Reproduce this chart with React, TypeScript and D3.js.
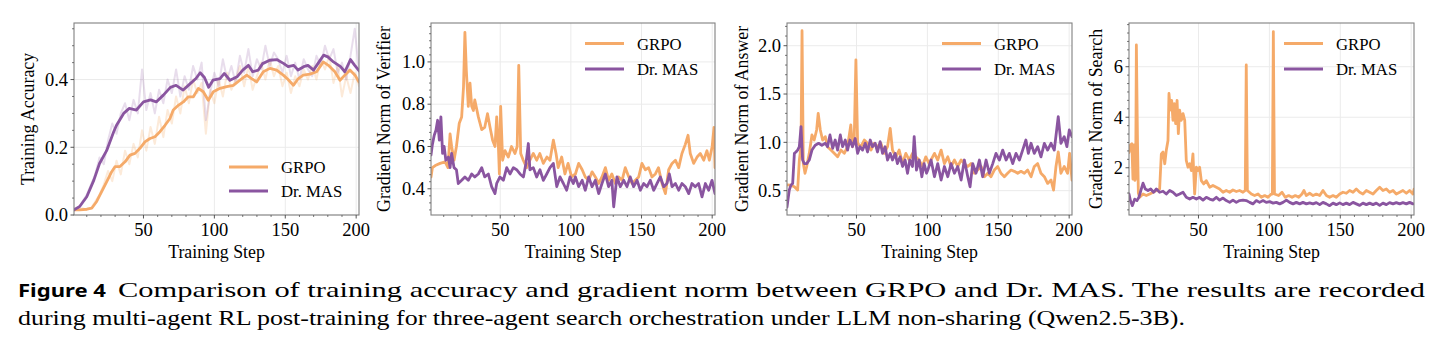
import React from "react";
import * as d3 from "d3";

// figure size and shared plot rows
const W = 1447;
const H = 351;
const TOP = 23;
const BOTTOM = 215;

const GRPO_COLOR = "#f5aa69";
const MAS_COLOR = "#8a55a0";
const SERIF = "'Liberation Serif', 'Times New Roman', serif";

const xTicks = [50, 100, 150, 200];
const legendNames = ["GRPO", "Dr. MAS"];

// ---- Training accuracy (smoothed + raw) ----
const accMasSteps = [1, 5, 10, 15, 19, 24, 29, 31, 36, 40, 45, 50, 55, 59, 64, 69, 73, 78, 83, 87, 90, 93, 96, 99, 104, 107, 111, 116, 120, 124, 127, 131, 134, 139, 144, 149, 152, 156, 159, 163, 166, 170, 173, 177, 180, 184, 189, 192, 196, 199, 202];
const accMas = [0.015, 0.025, 0.054, 0.103, 0.152, 0.19, 0.246, 0.265, 0.3, 0.315, 0.31, 0.334, 0.34, 0.334, 0.354, 0.377, 0.383, 0.369, 0.388, 0.403, 0.42, 0.406, 0.377, 0.398, 0.403, 0.418, 0.398, 0.408, 0.428, 0.442, 0.423, 0.428, 0.447, 0.457, 0.459, 0.447, 0.438, 0.442, 0.428, 0.438, 0.442, 0.428, 0.447, 0.472, 0.467, 0.452, 0.438, 0.423, 0.459, 0.442, 0.426];
const accGrpoSteps = [1, 5, 10, 13.5, 17, 20.5, 24, 27.6, 30, 33.4, 37, 40.5, 44, 47.5, 51, 54.6, 58.1, 61.6, 65.2, 68.7, 71, 74.6, 78.1, 81.6, 85.2, 88.7, 92.2, 95.7, 99.3, 104, 108.7, 113.4, 118, 122.8, 126.3, 129.8, 134.5, 139.2, 143.9, 148.6, 152, 155.7, 159.2, 162.7, 167.4, 172.1, 176.8, 180.4, 185, 188.6, 192, 195.6, 199.2, 202];
const accGrpo = [0.015, 0.015, 0.017, 0.02, 0.04, 0.069, 0.098, 0.128, 0.143, 0.143, 0.157, 0.177, 0.182, 0.197, 0.216, 0.226, 0.231, 0.246, 0.265, 0.285, 0.31, 0.324, 0.334, 0.349, 0.349, 0.374, 0.364, 0.339, 0.364, 0.374, 0.379, 0.383, 0.398, 0.413, 0.403, 0.393, 0.423, 0.433, 0.428, 0.413, 0.4, 0.383, 0.403, 0.413, 0.416, 0.423, 0.452, 0.442, 0.423, 0.398, 0.413, 0.428, 0.413, 0.393];
const rawSteps = [1, 4, 7, 10, 13, 16, 19, 22, 25, 28, 31, 34, 37, 40, 43, 46, 49, 52, 55, 58, 61, 64, 67, 70, 73, 76, 79, 82, 85, 88, 91, 94, 97, 100, 103, 106, 109, 112, 115, 118, 121, 124, 127, 130, 133, 136, 139, 142, 145, 148, 151, 154, 157, 160, 163, 166, 169, 172, 175, 178, 181, 184, 187, 190, 193, 196, 199, 202];
const accMasRaw = [0.02, 0.02, 0.04, 0.06, 0.09, 0.12, 0.17, 0.15, 0.22, 0.27, 0.24, 0.3, 0.33, 0.28, 0.34, 0.3, 0.43, 0.31, 0.36, 0.3, 0.37, 0.33, 0.4, 0.36, 0.43, 0.35, 0.41, 0.37, 0.44, 0.4, 0.45, 0.28, 0.36, 0.42, 0.38, 0.46, 0.4, 0.44, 0.39, 0.47, 0.42, 0.49, 0.41, 0.46, 0.43, 0.5, 0.44, 0.48, 0.46, 0.42, 0.47, 0.41, 0.45, 0.4, 0.46, 0.43, 0.41, 0.47, 0.44, 0.5, 0.46, 0.49, 0.42, 0.45, 0.4, 0.47, 0.55, 0.42];
const accGrpoRaw = [0.015, 0.015, 0.02, 0.015, 0.02, 0.04, 0.06, 0.09, 0.13, 0.1, 0.16, 0.12, 0.19, 0.15, 0.21, 0.17, 0.25, 0.19, 0.26, 0.21, 0.29, 0.23, 0.31, 0.27, 0.35, 0.3, 0.38, 0.33, 0.4, 0.36, 0.39, 0.24, 0.37, 0.33, 0.4, 0.35, 0.42, 0.37, 0.4, 0.44, 0.38, 0.44, 0.37, 0.41, 0.45, 0.4, 0.46, 0.41, 0.44, 0.38, 0.42, 0.36, 0.41, 0.38, 0.43, 0.4, 0.44, 0.4, 0.46, 0.43, 0.47, 0.39, 0.44, 0.35, 0.41, 0.36, 0.42, 0.38];

// ---- Gradient norm of verifier ----
const verGrpoSteps = [1, 2, 4, 7.4, 11, 13, 14.5, 15.6, 17.3, 19, 21, 22.7, 24, 25, 26, 27.4, 28.6, 29.8, 31, 32, 34.5, 36.9, 39, 41, 42.8, 44.6, 46.3, 47.5, 48.7, 49.4, 50.3, 51.7, 53.4, 55.7, 58, 60.4, 62, 63.1, 64.5, 66.3, 68.7, 71, 73.4, 75.8, 78, 80.5, 83, 85.2, 87.6, 89.5, 91, 93.5, 95.8, 98, 100.5, 103.2, 105.5, 108, 110.2, 112.6, 115, 117.3, 119.7, 122, 124.4, 126.7, 129, 131.5, 133.8, 136.2, 138.5, 141, 143.3, 145.6, 148, 150.3, 152.7, 155, 157.4, 159.8, 162, 164.5, 166.9, 169.2, 171.6, 174, 176.3, 178.6, 181, 182.9, 184.5, 186.9, 189.3, 191.6, 194, 196.3, 198, 200, 201.3, 202];
const verGrpo = [0.456, 0.5, 0.51, 0.52, 0.527, 0.5, 0.66, 0.6, 0.535, 0.6, 0.71, 0.74, 0.88, 1.14, 0.96, 0.79, 0.9, 0.79, 0.77, 0.82, 0.74, 0.68, 0.69, 0.755, 0.69, 0.63, 0.6, 0.74, 0.6, 0.47, 0.79, 0.535, 0.58, 0.55, 0.6, 0.567, 0.6, 0.984, 0.567, 0.535, 0.5, 0.535, 0.567, 0.535, 0.567, 0.52, 0.55, 0.535, 0.63, 0.567, 0.5, 0.55, 0.47, 0.52, 0.456, 0.47, 0.52, 0.49, 0.456, 0.44, 0.48, 0.456, 0.425, 0.456, 0.5, 0.44, 0.47, 0.425, 0.456, 0.44, 0.5, 0.456, 0.425, 0.44, 0.456, 0.52, 0.49, 0.5, 0.456, 0.47, 0.5, 0.425, 0.377, 0.49, 0.52, 0.535, 0.5, 0.567, 0.61, 0.653, 0.567, 0.52, 0.55, 0.567, 0.535, 0.58, 0.535, 0.6, 0.69, 0.5];
const verMasSteps = [1, 2, 3.3, 4.5, 5.7, 6.9, 8, 9.2, 10.3, 11.5, 13.3, 14.5, 15.6, 17.3, 19, 20.3, 22.7, 25, 27.4, 29.8, 32, 34.5, 36.9, 39, 41.6, 43.9, 46.3, 47.5, 49.8, 52.2, 54.6, 56.9, 59.3, 61.6, 64, 66.4, 68.2, 69.9, 71, 73.4, 75.8, 78.1, 80.5, 82.9, 85.2, 87.6, 90, 92.3, 94.7, 97, 99.4, 101.7, 103.2, 105.5, 108, 110.2, 112.6, 115, 117.3, 119.7, 122, 124.4, 126.7, 129, 130.3, 132.6, 135, 137.4, 139.7, 142, 144.4, 146.8, 149.2, 151.5, 153.9, 156.2, 158.6, 161, 163.3, 165.7, 168, 169.7, 171.6, 174, 176.3, 178.6, 181, 183.4, 185.7, 188, 190.4, 192.8, 195.2, 197.5, 199.9, 202];
const verMas = [0.56, 0.61, 0.653, 0.677, 0.724, 0.63, 0.74, 0.567, 0.6, 0.535, 0.55, 0.5, 0.567, 0.5, 0.49, 0.425, 0.44, 0.456, 0.44, 0.47, 0.456, 0.47, 0.5, 0.456, 0.47, 0.41, 0.377, 0.425, 0.456, 0.44, 0.5, 0.47, 0.5, 0.49, 0.47, 0.456, 0.52, 0.614, 0.49, 0.5, 0.456, 0.49, 0.44, 0.47, 0.5, 0.52, 0.41, 0.456, 0.425, 0.393, 0.456, 0.425, 0.456, 0.41, 0.44, 0.393, 0.456, 0.41, 0.44, 0.377, 0.425, 0.47, 0.41, 0.44, 0.315, 0.456, 0.41, 0.44, 0.41, 0.456, 0.41, 0.44, 0.393, 0.425, 0.41, 0.44, 0.393, 0.425, 0.456, 0.41, 0.425, 0.47, 0.41, 0.425, 0.393, 0.425, 0.41, 0.377, 0.425, 0.41, 0.425, 0.362, 0.425, 0.393, 0.44, 0.377];

// ---- Gradient norm of answer ----
const ansGrpoSteps = [1, 3.8, 6.2, 8.5, 9.7, 10.9, 11.6, 12.5, 13.7, 14.9, 16.7, 18.6, 20.2, 21.9, 23, 24.5, 26.1, 28, 29.6, 32, 34.3, 36.7, 39, 41.4, 43.7, 46, 47.2, 48.4, 49.6, 50.8, 53.1, 55.5, 57.8, 60.2, 62.5, 64.8, 67.2, 69.5, 71.9, 73.8, 75.4, 77.8, 80.1, 82.5, 84.8, 87.2, 89.5, 91.8, 94.2, 96.5, 98.9, 101.2, 105, 107.3, 109.7, 112, 114.4, 116.7, 119.1, 121.4, 123.8, 126.1, 128.5, 130.8, 133.2, 135.5, 137.9, 140.2, 142.6, 144.9, 147.2, 149.6, 151.9, 154.3, 156.6, 159, 161.3, 163.7, 166, 168.4, 170.7, 173.1, 175.4, 177.8, 180.1, 182.5, 184.8, 187.2, 189, 190.7, 192.3, 194.2, 196.5, 198.9, 200.3, 202];
const ansGrpo = [0.56, 0.557, 0.54, 0.506, 0.817, 0.955, 2.155, 0.78, 0.68, 0.75, 0.886, 1.076, 1.024, 1.128, 1.3, 1.128, 1.024, 1.059, 0.955, 0.92, 0.886, 0.85, 0.92, 0.886, 0.955, 1.18, 0.955, 1.024, 1.854, 0.99, 0.955, 1.024, 0.99, 0.92, 0.99, 0.955, 0.99, 0.886, 0.955, 1.145, 0.92, 0.85, 0.92, 0.78, 0.886, 0.817, 0.886, 0.85, 0.817, 0.75, 0.85, 0.78, 0.886, 0.817, 0.92, 0.78, 0.85, 0.75, 0.817, 0.75, 0.817, 0.78, 0.75, 0.78, 0.68, 0.713, 0.75, 0.644, 0.68, 0.644, 0.713, 0.75, 0.68, 0.644, 0.68, 0.713, 0.7, 0.68, 0.7, 0.68, 0.713, 0.644, 0.75, 0.78, 0.68, 0.644, 0.575, 0.61, 0.506, 0.75, 0.9, 0.68, 0.75, 0.68, 0.886, 0.61];
const ansMasSteps = [1, 2.6, 3.8, 5, 6.2, 7.3, 8.5, 9.7, 10.9, 12, 13.2, 14.9, 16.7, 18.6, 20.9, 23.3, 25.6, 28, 29.6, 31.3, 33.2, 35, 36.7, 38.6, 40.2, 42.1, 43.7, 45.4, 47.2, 49.1, 50.8, 52.4, 54.3, 56.2, 57.8, 59.7, 61.3, 63.2, 64.8, 66.7, 68.4, 70.2, 71.9, 73.8, 75.4, 77.3, 78.9, 80.8, 82.5, 84.3, 86, 87.6, 89.5, 90.7, 92.3, 94.2, 96.1, 97.7, 99.4, 100.3, 102.6, 105, 107.3, 109.7, 112, 114.4, 116.7, 119.1, 121.4, 123.8, 126.1, 128.5, 130.1, 132, 134.3, 136.7, 139, 141.4, 143.7, 146.1, 148.4, 150.8, 153.1, 155.5, 157.8, 160.2, 162.5, 164.9, 167.2, 169.5, 171.2, 173.1, 175.4, 177.8, 180.1, 182.5, 184.8, 187.2, 189.5, 192.3, 194.2, 196.5, 198.4, 200.1, 202];
const ansMas = [0.33, 0.506, 0.557, 0.575, 0.886, 0.9, 0.92, 0.955, 1.163, 0.817, 0.78, 0.78, 0.817, 0.92, 0.97, 0.99, 0.97, 0.99, 0.955, 1.076, 0.938, 1.024, 0.92, 1.076, 0.955, 1.024, 0.92, 1.024, 0.955, 1.04, 0.886, 0.955, 0.92, 0.99, 0.9, 1.024, 0.955, 0.99, 0.9, 1.007, 0.886, 0.955, 0.817, 0.886, 0.817, 0.886, 0.78, 0.85, 0.75, 0.817, 0.68, 0.817, 0.75, 1.06, 0.713, 0.817, 0.644, 0.78, 0.68, 0.713, 0.817, 0.644, 0.78, 0.61, 0.75, 0.644, 0.78, 0.68, 0.75, 0.61, 0.817, 0.644, 0.54, 0.78, 0.68, 0.817, 0.644, 0.817, 0.68, 0.78, 0.886, 0.817, 0.92, 0.817, 0.886, 0.78, 0.886, 0.817, 0.92, 1.024, 0.886, 0.99, 0.886, 0.955, 0.85, 0.99, 0.92, 0.99, 0.92, 1.266, 0.99, 1.059, 0.955, 1.128, 1.059];

// ---- Gradient norm of search ----
const seaGrpoSteps = [1, 2, 3, 3.8, 4.5, 5.2, 5.7, 6.2, 7, 7.6, 8.5, 10.9, 13.2, 15.6, 17.9, 20.3, 22.6, 23.8, 25, 26.2, 27.3, 28.5, 29.2, 30.1, 31.1, 32, 33, 33.9, 34.9, 35.8, 36.7, 37.9, 39.1, 40.3, 41.4, 42.6, 43.8, 45, 46.1, 47.3, 48.5, 49.7, 50.8, 52, 53.7, 55.5, 57.9, 60.2, 62.6, 64.9, 67.3, 69.6, 72, 74.3, 76.7, 79, 81.4, 83, 83.7, 84.5, 87.3, 89.6, 92, 94.3, 96.7, 99, 101.4, 102.1, 102.8, 103.6, 106.5, 108.9, 111.2, 113.6, 116, 118.3, 120.7, 123, 124.4, 126, 128.4, 130.8, 133.1, 135.5, 137.8, 140.2, 142.5, 144.9, 147.2, 149.6, 151.9, 154.3, 156.6, 159, 161.3, 163.7, 166, 168.4, 170.7, 173.1, 175.4, 177.8, 180.1, 182.5, 184.8, 187.2, 189.5, 191.9, 194.2, 196.6, 198.9, 201.3, 202];
const seaGrpo = [2.6, 2.9, 2.95, 1.55, 2.9, 1.5, 1.6, 6.86, 3.0, 1.0, 0.83, 0.96, 0.9, 0.96, 1.03, 1.1, 1.16, 2.55, 2.62, 2.16, 2.69, 3.08, 4.94, 4.28, 4.67, 3.88, 4.54, 3.75, 4.67, 3.35, 4.28, 3.88, 4.14, 3.88, 2.29, 2.02, 2.16, 1.89, 2.55, 0.96, 2.02, 1.89, 2.02, 1.49, 1.36, 1.49, 1.23, 1.3, 1.23, 1.16, 1.03, 1.1, 1.03, 1.12, 1.06, 1.1, 1.03, 1.1, 6.07, 1.1, 0.96, 0.9, 0.96, 0.83, 0.9, 0.83, 0.96, 0.96, 7.39, 0.96, 0.9, 1.03, 0.83, 0.9, 0.83, 0.9, 0.83, 0.96, 1.1, 0.9, 0.99, 0.9, 0.96, 0.9, 1.1, 0.9, 0.83, 0.9, 0.83, 0.96, 1.03, 0.99, 1.1, 1.03, 1.16, 1.03, 0.96, 1.1, 1.03, 0.96, 1.1, 1.23, 1.1, 1.16, 1.03, 1.1, 0.96, 1.03, 1.1, 0.99, 1.1, 0.96, 1.15];
const seaMasSteps = [1, 2, 3.4, 5, 6.6, 8, 9.7, 10.9, 12.5, 14.4, 16.3, 18.4, 20.3, 22.6, 25, 27.3, 29.7, 32, 34.4, 36.7, 39.1, 41.4, 43.8, 46.1, 48.5, 50.8, 53.2, 55.5, 57.9, 60.2, 62.6, 64.9, 67.3, 69.6, 72, 74.3, 76.7, 79, 81.4, 83.7, 86.1, 88.4, 90.8, 93.1, 95.5, 97.8, 100.2, 102.6, 104.9, 107.3, 109.6, 112, 114.3, 116.7, 119, 121.4, 123.7, 126.1, 128.4, 130.8, 133.1, 135.5, 137.8, 140.2, 142.5, 144.9, 147.2, 149.6, 151.9, 154.3, 156.6, 159, 161.3, 163.7, 166, 168.4, 170.7, 173.1, 175.4, 177.8, 180.1, 182.5, 184.8, 187.2, 189.5, 191.9, 194.2, 196.6, 198.9, 201.3];
const seaMas = [0.96, 0.7, 0.5, 0.76, 0.7, 0.83, 1.16, 1.39, 1.16, 1.1, 1.16, 1.03, 1.16, 1.03, 1.07, 0.96, 1.1, 1.03, 0.9, 0.96, 1.03, 0.83, 0.76, 0.83, 0.76, 0.83, 0.72, 0.83, 0.76, 0.72, 0.83, 0.72, 0.8, 0.7, 0.63, 0.72, 0.63, 0.7, 0.72, 0.7, 0.63, 0.57, 0.7, 0.63, 0.7, 0.63, 0.66, 0.6, 0.63, 0.57, 0.63, 0.72, 0.63, 0.57, 0.63, 0.57, 0.63, 0.57, 0.61, 0.57, 0.62, 0.54, 0.63, 0.57, 0.5, 0.6, 0.54, 0.61, 0.54, 0.6, 0.54, 0.63, 0.57, 0.51, 0.6, 0.54, 0.6, 0.54, 0.6, 0.51, 0.6, 0.54, 0.62, 0.57, 0.62, 0.57, 0.62, 0.57, 0.63, 0.57];

type Series = { steps: number[]; values: number[] };

type PanelCfg = {
  id: string;
  left: number;
  right: number;
  yDomain: [number, number];
  yTicks: number[];
  yMinorStep: number;
  yFormat: string;
  yLabel: string;
  yLabelX: number;
  legendY: [number, number];
  grpo: Series;
  mas: Series;
  grpoRaw?: Series;
  masRaw?: Series;
};

const panels: PanelCfg[] = [
  {
    id: "acc", left: 74, right: 359, yDomain: [0, 0.567], yTicks: [0, 0.2, 0.4], yMinorStep: 0.05,
    yFormat: ".1f", yLabel: "Training Accuracy", yLabelX: 29, legendY: [167, 191],
    grpo: { steps: accGrpoSteps, values: accGrpo }, mas: { steps: accMasSteps, values: accMas },
    grpoRaw: { steps: rawSteps, values: accGrpoRaw }, masRaw: { steps: rawSteps, values: accMasRaw },
  },
  {
    id: "ver", left: 431, right: 715, yDomain: [0.276, 1.184], yTicks: [0.4, 0.6, 0.8, 1.0], yMinorStep: 0.2 / 6,
    yFormat: ".1f", yLabel: "Gradient Norm of Verifier", yLabelX: 385, legendY: [43.5, 69],
    grpo: { steps: verGrpoSteps, values: verGrpo }, mas: { steps: verMasSteps, values: verMas },
  },
  {
    id: "ans", left: 787, right: 1072, yDomain: [0.248, 2.235], yTicks: [0.5, 1.0, 1.5, 2.0], yMinorStep: 0.1,
    yFormat: ".1f", yLabel: "Gradient Norm of Answer", yLabelX: 743, legendY: [43.5, 69],
    grpo: { steps: ansGrpoSteps, values: ansGrpo }, mas: { steps: ansMasSteps, values: ansMas },
  },
  {
    id: "sea", left: 1129, right: 1414, yDomain: [0.13, 7.73], yTicks: [2, 4, 6], yMinorStep: 2 / 6,
    yFormat: "d", yLabel: "Gradient Norm of Search", yLabelX: 1097, legendY: [43.5, 69],
    grpo: { steps: seaGrpoSteps, values: seaGrpo }, mas: { steps: seaMasSteps, values: seaMas },
  },
];

function Panel({ cfg }: { cfg: PanelCfg }) {
  const x = d3.scaleLinear().domain([1, 202]).range([cfg.left, cfg.right]);
  const y = d3.scaleLinear().domain(cfg.yDomain).range([BOTTOM, TOP]);
  const path = (s: Series) =>
    d3.line<number>().x((_, i) => x(s.steps[i])).y((d) => y(d))(s.values) || "";
  const fmt = d3.format(cfg.yFormat);

  const xMinor = d3.range(10, 202, 10).filter((v) => v % 50 !== 0);
  const start = Math.ceil(cfg.yDomain[0] / cfg.yMinorStep - 1e-6);
  const yMinor: number[] = [];
  for (let k = start; k * cfg.yMinorStep <= cfg.yDomain[1]; k++) {
    const v = k * cfg.yMinorStep;
    if (!cfg.yTicks.some((t) => Math.abs(t - v) < 1e-6)) yMinor.push(v);
  }

  const cx = (cfg.left + cfg.right) / 2;
  const cy = (TOP + BOTTOM) / 2;
  const lx0 = cfg.right - 130;
  const lx1 = cfg.right - 91;
  const tx = cfg.right - 78;

  return (
    <g>
      <defs>
        <clipPath id={"clip-" + cfg.id}>
          <rect x={cfg.left} y={TOP} width={cfg.right - cfg.left} height={BOTTOM - TOP} />
        </clipPath>
      </defs>
      {/* grid */}
      {xTicks.map((t) => (
        <line key={"gx" + t} x1={x(t)} x2={x(t)} y1={TOP} y2={BOTTOM} stroke="#ebebeb" strokeWidth={1} />
      ))}
      {cfg.yTicks.map((t) => (
        <line key={"gy" + t} x1={cfg.left} x2={cfg.right} y1={y(t)} y2={y(t)} stroke="#ebebeb" strokeWidth={1} />
      ))}
      <g clipPath={`url(#clip-${cfg.id})`} fill="none" strokeLinejoin="round" strokeLinecap="round">
        {cfg.grpoRaw && <path d={path(cfg.grpoRaw)} stroke={GRPO_COLOR} strokeWidth={2} strokeOpacity={0.25} />}
        {cfg.masRaw && <path d={path(cfg.masRaw)} stroke={MAS_COLOR} strokeWidth={2} strokeOpacity={0.2} />}
        <path d={path(cfg.grpo)} stroke={GRPO_COLOR} strokeWidth={2.8} />
        <path d={path(cfg.mas)} stroke={MAS_COLOR} strokeWidth={2.8} />
      </g>
      <rect x={cfg.left} y={TOP} width={cfg.right - cfg.left} height={BOTTOM - TOP} fill="none" stroke="#808080" strokeWidth={1.1} />
      {/* x ticks */}
      {xTicks.map((t) => (
        <g key={"xt" + t}>
          <line x1={x(t)} x2={x(t)} y1={BOTTOM} y2={BOTTOM + 3.5} stroke="#444" strokeWidth={0.9} />
          <text x={x(t)} y={236} textAnchor="middle" fontSize={18.5} fontFamily={SERIF}>{t}</text>
        </g>
      ))}
      {xMinor.map((t) => (
        <line key={"xm" + t} x1={x(t)} x2={x(t)} y1={BOTTOM} y2={BOTTOM + 2} stroke="#444" strokeWidth={0.7} />
      ))}
      {/* y ticks */}
      {cfg.yTicks.map((t) => (
        <g key={"yt" + t}>
          <line x1={cfg.left - 3.5} x2={cfg.left} y1={y(t)} y2={y(t)} stroke="#444" strokeWidth={0.9} />
          <text x={cfg.left - 6} y={y(t)} dy="0.34em" textAnchor="end" fontSize={18.5} fontFamily={SERIF}>{fmt(t)}</text>
        </g>
      ))}
      {yMinor.map((t) => (
        <line key={"ym" + t} x1={cfg.left - 2} x2={cfg.left} y1={y(t)} y2={y(t)} stroke="#444" strokeWidth={0.7} />
      ))}
      {/* axis labels */}
      <text x={cx} y={258} textAnchor="middle" fontSize={17.8} fontFamily={SERIF}>Training Step</text>
      <text
        transform={`translate(${cfg.yLabelX},${cy}) rotate(-90)`}
        textAnchor="middle"
        dy="0.3em"
        fontSize={17.8}
        fontFamily={SERIF}
      >
        {cfg.yLabel}
      </text>
      {/* legend */}
      {legendNames.map((name, i) => (
        <g key={name}>
          <line x1={lx0} x2={lx1} y1={cfg.legendY[i]} y2={cfg.legendY[i]} stroke={i === 0 ? GRPO_COLOR : MAS_COLOR} strokeWidth={2.8} />
          <text x={tx} y={cfg.legendY[i]} dy="0.36em" fontSize={16.7} fontFamily={SERIF}>{name}</text>
        </g>
      ))}
    </g>
  );
}

export default function App() {
  return (
    <div style={{ position: "absolute", left: 0, top: 0 }}>
      <svg width={W} height={H} viewBox={`0 0 ${W} ${H}`} style={{ display: "block", background: "#fff" }}>
        {panels.map((p) => (
          <Panel key={p.id} cfg={p} />
        ))}
        <text x={18} y={297} fontSize={18} fontWeight={700} fontFamily="'Noto Sans', sans-serif" textLength={88} lengthAdjust="spacingAndGlyphs">
          Figure 4
        </text>
        <text x={118} y={297} fontSize={21} fontFamily={SERIF} textLength={1307} lengthAdjust="spacingAndGlyphs">
          Comparison of training accuracy and gradient norm between GRPO and Dr. MAS. The results are recorded
        </text>
        <text x={18} y={325} fontSize={21} fontFamily={SERIF} textLength={1167} lengthAdjust="spacingAndGlyphs">
          during multi-agent RL post-training for three-agent search orchestration under LLM non-sharing (Qwen2.5-3B).
        </text>
      </svg>
    </div>
  );
}
